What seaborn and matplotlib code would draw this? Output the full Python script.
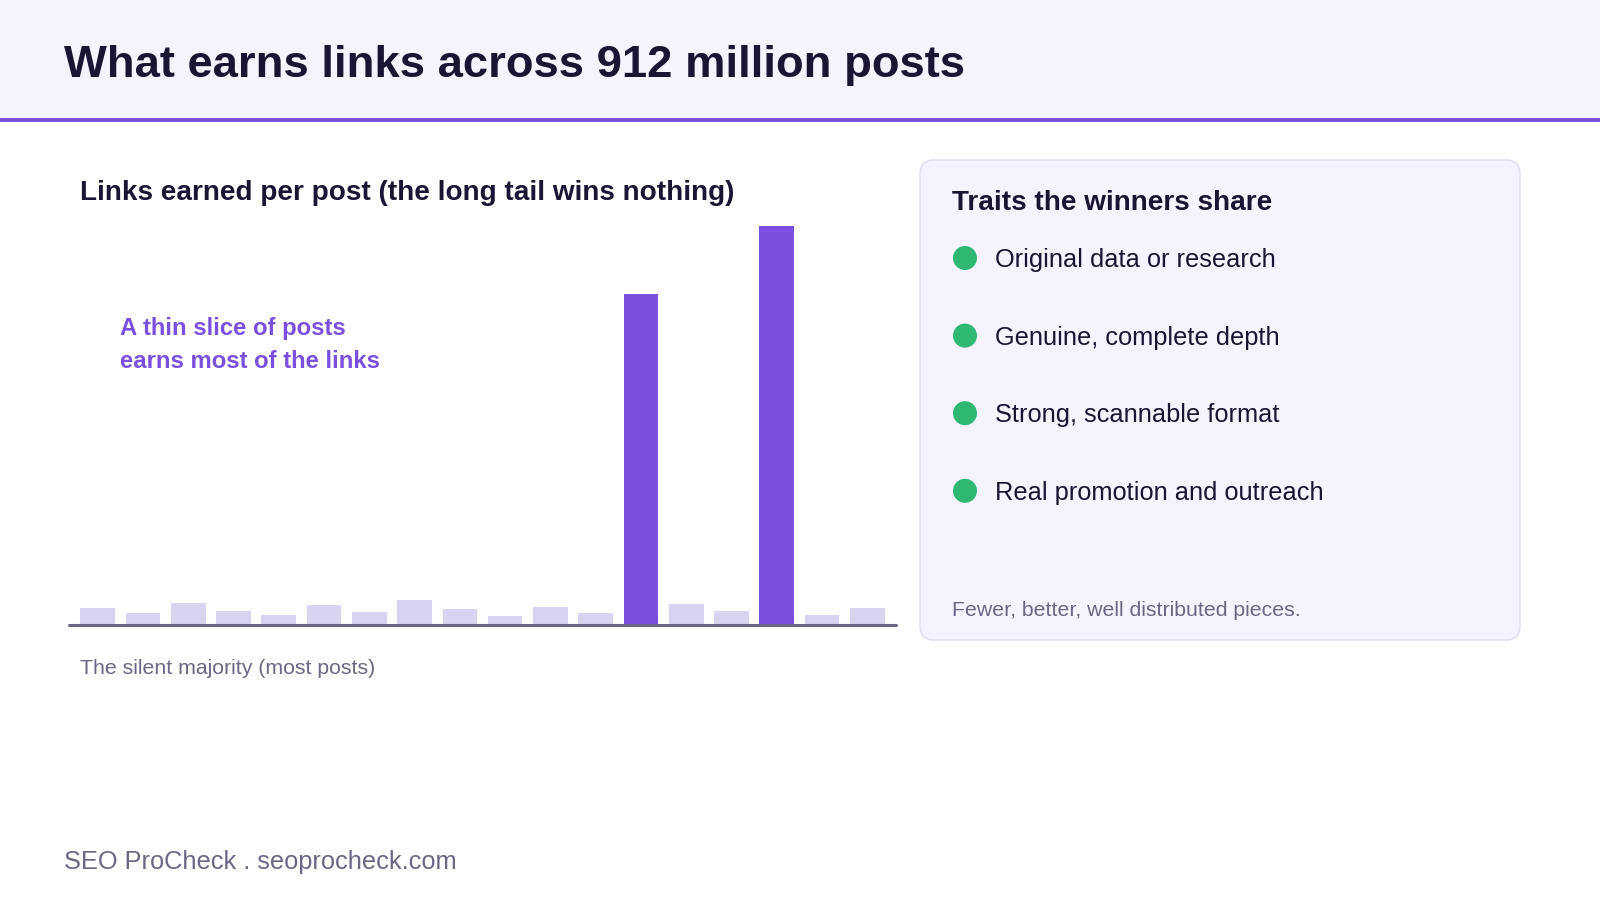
import matplotlib
matplotlib.use("Agg")
import matplotlib.pyplot as plt
from matplotlib.patches import FancyBboxPatch, Rectangle, Circle
import seaborn as sns
import pandas as pd

# ---- data ----
posts = [f"P{i:02d}" for i in range(1, 19)]
links = [4.3, 3.0, 5.6, 3.6, 2.6, 5.0, 3.3, 6.3, 3.9, 2.3, 4.6, 3.0,
         83.0, 5.3, 3.6, 100.0, 2.6, 4.3]
groups = ["tail"] * 12 + ["winner"] + ["tail"] * 2 + ["winner"] + ["tail"] * 2
traits = ["Original data or research", "Genuine, complete depth",
          "Strong, scannable format", "Real promotion and outreach"]

title = "What earns links across 912 million posts"
subtitle = "Links earned per post (the long tail wins nothing)"
annotation = "A thin slice of posts\nearns most of the links"
xlabel_note = "The silent majority (most posts)"
panel_title = "Traits the winners share"
panel_note = "Fewer, better, well distributed pieces."
footer = "SEO ProCheck . seoprocheck.com"

# ---- style ----
DARK = "#1B1433"
PURPLE = "#7B50DE"
LIGHT = "#D9D3F2"
GREEN = "#2EB872"
GRAY = "#6B6785"
BAND = "#F5F3FE"
BORDER = "#E4E0F2"

sns.set_theme(style="white")
plt.rcParams["font.family"] = ["Liberation Sans", "DejaVu Sans"]

W, H = 1600, 900
fig = plt.figure(figsize=(16, 9), dpi=100)
fig.patch.set_facecolor("white")

# background axes in pixel coordinates (top-left origin)
bg = fig.add_axes([0, 0, 1, 1], zorder=0)
bg.set_xlim(0, W)
bg.set_ylim(H, 0)
bg.axis("off")

# header band + purple rule
bg.add_patch(Rectangle((0, 0), W, 118, facecolor=BAND, edgecolor="none"))
bg.add_patch(Rectangle((0, 117.5), W, 4.5, facecolor=PURPLE, edgecolor="none"))
bg.text(64, 65, title, fontsize=32.7, fontweight="bold", color=DARK,
        ha="left", va="center")

# chart subtitle / notes
bg.text(80.5, 192.5, subtitle, fontsize=20.1, fontweight="bold", color=DARK,
        ha="left", va="center")
bg.text(120, 345, annotation, fontsize=17.2, fontweight="bold", color=PURPLE,
        ha="left", va="center", linespacing=1.6)
bg.text(80.5, 668, xlabel_note, fontsize=15.3, color=GRAY,
        ha="left", va="center")

# right panel
bg.add_patch(FancyBboxPatch((920, 160), 600, 480,
                            boxstyle="round,pad=0,rounding_size=14",
                            facecolor=BAND, edgecolor=BORDER, linewidth=1.2))
bg.text(952, 203, panel_title, fontsize=20.1, fontweight="bold", color=DARK,
        ha="left", va="center")
for i, t in enumerate(traits):
    yc = 258 + i * 77.6
    bg.add_patch(Circle((965, yc), 12, facecolor=GREEN, edgecolor="none"))
    bg.text(995, yc + 2, t, fontsize=18.3, color=DARK, ha="left", va="center")
bg.text(952, 611, panel_note, fontsize=15.3, color=GRAY,
        ha="left", va="center")

# footer
bg.text(64, 862, footer, fontsize=18.25, color=GRAY, ha="left", va="center")

# ---- bar chart ----
ax_left, ax_right = 69, 896
ax_top, ax_base = 226, 625
ax = fig.add_axes([ax_left / W, 1 - ax_base / H,
                   (ax_right - ax_left) / W, (ax_base - ax_top) / H], zorder=1)
ax.patch.set_alpha(0)

df = pd.DataFrame({"post": posts, "links": links, "group": groups})
sns.barplot(data=df, x="post", y="links", hue="group",
            palette={"tail": LIGHT, "winner": PURPLE}, dodge=False,
            width=0.766, saturation=1, legend=False, linewidth=0, ax=ax)

pitch = 45.3
pad = 6 / pitch
ax.set_xlim(-0.5 - pad, len(posts) - 0.5 + pad)
ax.set_ylim(0, 100)
ax.axhline(0, color="#6B6482", linewidth=2.2, clip_on=False, zorder=5)
for s in ax.spines.values():
    s.set_visible(False)
ax.set_xticks([])
ax.set_yticks([])
ax.set_xlabel("")
ax.set_ylabel("")

fig.savefig("out.png", dpi=100, facecolor="white")
